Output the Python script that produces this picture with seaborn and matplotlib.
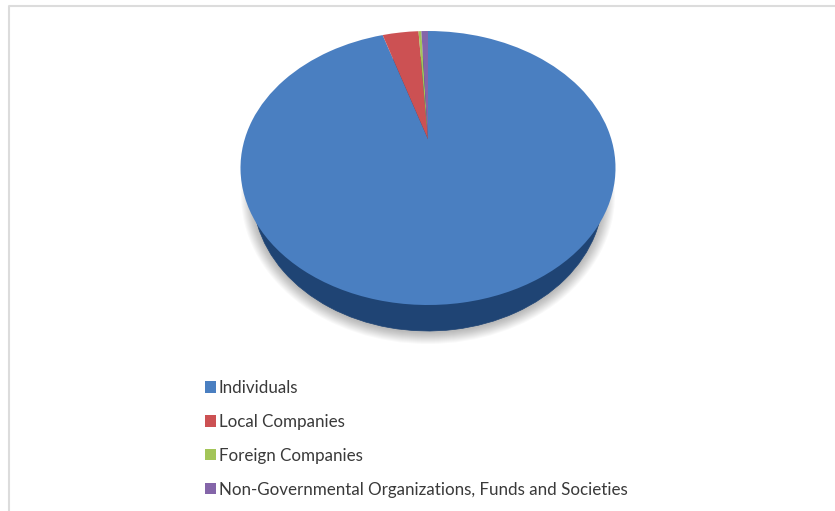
import numpy as np
import matplotlib
matplotlib.use("Agg")
import matplotlib.pyplot as plt
import matplotlib.transforms as mtrans
from matplotlib.patches import Ellipse
import seaborn as sns

# shares (percent)
categories = ["Individuals", "Local Companies", "Foreign Companies",
              "Non-Governmental Organizations, Funds and Societies"]
shares = [95.2, 3.8, 0.3, 0.7]
colors = ["#4a7fc1", "#cc5153", "#a3c558", "#8465a9"]
side_color = "#1f4474"

W, H = 835, 511

sns.set_theme(style="white")
plt.rcParams["font.family"] = ["Lato", "DejaVu Sans"]


# tilts the flat pie so the apex sits above the middle of the ellipse
class Tilt(mtrans.Transform):
    input_dims = 2
    output_dims = 2

    def __init__(self, a):
        super().__init__()
        self.a = a

    def transform_non_affine(self, xy):
        xy = np.asarray(xy)
        d = 1 + self.a * xy[:, 1]
        return np.column_stack([xy[:, 0] * np.sqrt(1 - self.a ** 2) / d,
                                (xy[:, 1] + self.a) / d])


def pie_axes(cx, cy, rx, ry):
    ax = fig.add_axes([(cx - rx) / W, 1 - (cy + ry) / H, 2 * rx / W, 2 * ry / H])
    ax.patch.set_visible(False)
    return ax


def finish(ax):
    ax.set_aspect("auto")
    ax.set_xlim(-1, 1)
    ax.set_ylim(-1, 1)
    ax.axis("off")


fig = plt.figure(figsize=(W / 100, H / 100), dpi=100, facecolor="white")

# page frame and soft shadow in pixel coordinates
bg = fig.add_axes([0, 0, 1, 1])
bg.set_xlim(0, W)
bg.set_ylim(H, 0)
bg.axis("off")
bg.plot([9, 9, W], [H, 6, 6], color="#dcdcdc", lw=1.5, solid_capstyle="butt")
for grow in range(12, 0, -1):
    bg.add_patch(Ellipse((428, 195), 2 * (175 + grow), 2 * (137 + grow),
                         facecolor="#000000", alpha=0.025, edgecolor="none"))

# side of the disc
side_ax = pie_axes(428, 194, 175, 137)
side_ax.pie(shares, colors=[side_color] * 4, startangle=90, counterclock=False,
            wedgeprops={"linewidth": 0.5, "edgecolor": side_color})
finish(side_ax)

# top face
face_ax = pie_axes(428, 168, 187.5, 137)
wedges, _ = face_ax.pie(shares, colors=colors, startangle=90, counterclock=False,
                        wedgeprops={"linewidth": 0})
finish(face_ax)
tilt = Tilt(0.21)
for w in wedges:
    w.set_transform(tilt + face_ax.transData)
    w.set_clip_on(False)

fig.legend(wedges, categories, loc="upper left", bbox_to_anchor=(198 / W, 1 - 373 / H),
           bbox_transform=fig.transFigure, frameon=False, fontsize=12.25,
           handlelength=0.66, handleheight=0.66, handletextpad=0.15,
           labelspacing=1.055, labelcolor="#3a3a3a", borderaxespad=0, borderpad=0.4)

fig.savefig("out.png", dpi=100)
